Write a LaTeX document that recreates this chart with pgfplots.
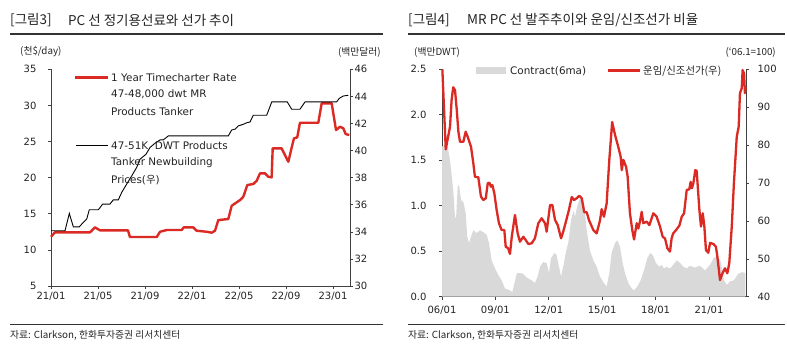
\documentclass[border=0pt]{standalone}
\usepackage{pgfplots}
\pgfplotsset{compat=1.18}
\usepackage{fontspec}
\setmainfont{DejaVu Sans}
\newfontfamily\kr{Noto Sans CJK KR}
\definecolor{myred}{RGB}{218,42,35}
\definecolor{mygrey}{RGB}{217,217,217}
\definecolor{txt}{RGB}{35,35,35}
\pgfplotsset{
  base/.style={scale only axis, tick align=outside, major tick length=3pt,
    axis line style={black!75, line width=0.8pt},
    tick style={black!75, line width=0.6pt},
    tick label style={font=\fontsize{10}{12}\selectfont, text=txt},
    /pgf/number format/assume math mode=true, clip=false},
  leftc/.style={base, at={(51pt,71pt)}, anchor=south west, width=299pt, height=216.7pt, xmin=0, xmax=25.45},
  rightc/.style={base, at={(442pt,60.3pt)}, anchor=south west, width=304pt, height=227.4pt, xmin=2006, xmax=2023.08},
}
\begin{document}
\begin{tikzpicture}
\path[use as bounding box] (0,0) rectangle (787pt,357pt);
% ---------- left chart ----------
\begin{axis}[leftc, ymin=5, ymax=35, ytick={5,10,15,20,25,30,35},
  axis y line*=left, axis x line*=bottom,
  xtick={0,4,8,12,16,20,24}, xticklabels={21/01,21/05,21/09,22/01,22/05,22/09,23/01},
  yticklabel style={xshift=-8pt}]
\addplot[myred, line width=2.4pt, line join=round] coordinates {
(0.0,11.82) (0.34,12.43) (3.32,12.43) (3.74,13.12) (4.17,12.71) (6.55,12.71) (6.72,11.78)
(9.0,11.78) (9.28,12.51) (9.85,12.75) (11.12,12.75) (11.3,13.12) (12.1,13.12) (12.4,12.65)
(13.25,12.51) (13.68,12.38) (13.96,12.65) (14.24,14.13) (15.09,14.27) (15.38,16.11)
(16.09,16.90) (16.37,17.36) (16.71,18.98) (17.22,19.12) (17.51,19.57) (17.79,20.60)
(18.21,20.60) (18.49,20.13) (18.78,20.04) (18.87,24.06) (19.63,24.06) (20.2,22.20)
(20.49,24.20) (20.68,25.44) (20.96,25.58) (21.19,27.60) (22.75,27.60) (23.04,30.29)
(23.89,30.29) (24.26,26.59) (24.6,27.05) (24.88,26.83) (25.08,26.04) (25.39,25.9)
};
\end{axis}
\begin{axis}[leftc, ymin=30, ymax=46, ytick={30,32,34,36,38,40,42,44,46},
  axis y line*=right, axis x line=none, yticklabel style={xshift=-2pt}]
\addplot[black, line width=0.9pt] coordinates {
(0.0,34.08) (1.19,34.08) (1.56,35.36) (1.90,34.37) (2.41,34.37) (2.75,34.70) (3.04,34.94)
(3.26,35.63) (4.03,35.63) (4.40,36.05) (5.02,36.05) (5.30,36.36) (5.73,36.36) (6.02,36.91)
(6.44,37.52) (6.87,38.13) (7.29,38.75) (7.57,39.36) (8.09,39.73) (8.43,40.23) (8.85,40.54)
(9.28,40.79) (9.56,40.79) (9.98,41.08) (15.09,41.08) (15.38,41.52) (15.66,41.58) (15.94,41.82)
(16.37,41.94) (16.71,42.07) (16.94,42.11) (17.22,42.61) (18.36,42.61) (18.79,43.59)
(20.11,43.59) (20.49,43.05) (21.19,43.05) (21.62,43.59) (24.31,43.59) (24.54,43.86)
(24.88,44.03) (25.30,44.08)
};
\end{axis}
% ---------- right chart ----------
\begin{axis}[rightc, ymin=0, ymax=2.5, ytick={0,0.5,1,1.5,2,2.5},
  axis y line*=left, axis x line*=bottom,
  xtick={2006,2009,2012,2015,2018,2021}, xticklabels={06/01,09/01,12/01,15/01,18/01,21/01},
  xticklabel style={yshift=-3pt},
  yticklabel style={xshift=-9pt, /pgf/number format/.cd, fixed, fixed zerofill, precision=1}]
\addplot[fill=mygrey, draw=none] coordinates {
(2006.0,1.65) (2006.17,1.67) (2006.32,1.65) (2006.45,1.50) (2006.54,1.34) (2006.63,1.17)
(2006.73,0.88) (2006.79,0.86) (2006.88,1.21) (2006.96,1.23) (2007.07,1.06) (2007.20,1.04)
(2007.33,0.92) (2007.42,0.66) (2007.52,0.59) (2007.63,0.66) (2007.76,0.73) (2007.95,0.70)
(2008.13,0.73) (2008.32,0.71) (2008.51,0.68) (2008.64,0.59) (2008.79,0.40) (2008.98,0.31)
(2009.16,0.24) (2009.35,0.18) (2009.54,0.09) (2009.82,0.07) (2009.95,0.05) (2010.07,0.15)
(2010.21,0.26) (2010.38,0.26) (2010.57,0.25) (2010.70,0.22) (2010.85,0.20) (2011.04,0.18)
(2011.22,0.15) (2011.37,0.22) (2011.51,0.33) (2011.69,0.38) (2011.88,0.37) (2012.01,0.26)
(2012.12,0.42) (2012.31,0.48) (2012.44,0.46) (2012.53,0.37) (2012.69,0.22) (2012.81,0.33)
(2012.95,0.48) (2013.10,0.60) (2013.25,0.84) (2013.38,0.95) (2013.47,0.88) (2013.62,1.01)
(2013.75,1.08) (2013.88,1.08) (2013.99,1.01) (2014.13,0.73) (2014.31,0.51) (2014.50,0.40)
(2014.69,0.33) (2014.88,0.22) (2015.06,0.16) (2015.25,0.11) (2015.40,0.26) (2015.53,0.48)
(2015.72,0.59) (2015.85,0.62) (2016.00,0.55) (2016.15,0.37) (2016.28,0.26) (2016.47,0.15)
(2016.66,0.09) (2016.79,0.07) (2016.97,0.11) (2017.16,0.18) (2017.35,0.29) (2017.53,0.42)
(2017.69,0.48) (2017.84,0.46) (2018.02,0.37) (2018.21,0.33) (2018.34,0.35) (2018.47,0.31)
(2018.62,0.33) (2018.81,0.31) (2018.99,0.35) (2019.19,0.40) (2019.38,0.37) (2019.56,0.33)
(2019.75,0.31) (2019.93,0.34) (2020.21,0.32) (2020.49,0.34) (2020.78,0.29) (2021.06,0.35)
(2021.28,0.43) (2021.51,0.44) (2021.67,0.38) (2021.84,0.18) (2022.01,0.13) (2022.18,0.17)
(2022.40,0.18) (2022.63,0.25) (2022.85,0.27) (2023.05,0.26)
} \closedcycle;
\end{axis}
\begin{axis}[rightc, ymin=40, ymax=100, ytick={40,50,60,70,80,90,100},
  axis y line*=right, axis x line=none, yticklabel style={xshift=5pt}]
\addplot[myred, line width=2.3pt, line join=round] coordinates {
(2006.02,100.0) (2006.21,78.89) (2006.45,84.85) (2006.54,91.90) (2006.63,95.25) (2006.73,94.54)
(2006.83,89.26) (2006.92,83.54) (2007.01,80.90) (2007.20,80.90) (2007.33,83.54) (2007.44,82.22)
(2007.63,79.58) (2007.76,75.20) (2007.85,71.66) (2008.04,71.50) (2008.19,66.39) (2008.32,65.51)
(2008.46,65.96) (2008.57,69.92) (2008.66,70.08) (2008.75,69.02) (2008.83,69.47) (2008.94,67.28)
(2009.07,62.88) (2009.20,59.37) (2009.35,57.60) (2009.50,57.60) (2009.58,53.19) (2009.72,52.77)
(2009.82,51.27) (2009.92,55.83) (2010.10,61.56) (2010.25,56.73) (2010.38,54.51) (2010.57,55.83)
(2010.70,54.96) (2010.85,53.90) (2011.04,54.09) (2011.22,55.41) (2011.41,59.37) (2011.60,60.69)
(2011.79,59.37) (2011.88,57.15) (2012.07,64.20) (2012.20,64.20) (2012.35,60.24) (2012.50,58.92)
(2012.69,55.41) (2012.81,57.15) (2013.01,60.69) (2013.13,62.88) (2013.29,66.3) (2013.42,65.5)
(2013.57,66.0) (2013.71,66.6) (2013.85,66.0) (2013.99,62.3) (2014.13,62.3) (2014.26,60.2)
(2014.50,57.6) (2014.69,56.7) (2014.88,60.2) (2014.97,63.1) (2015.10,61.1) (2015.25,64.6)
(2015.40,76.1) (2015.56,86.1) (2015.72,82.7) (2015.90,79.6) (2016.04,76.9) (2016.10,73.4)
(2016.19,76.1) (2016.34,74.3) (2016.43,71.7) (2016.56,62.0) (2016.69,57.6) (2016.79,55.1)
(2016.94,59.4) (2017.03,58.0) (2017.12,59.8) (2017.22,62.4) (2017.31,59.4) (2017.50,59.8)
(2017.65,58.9) (2017.87,62.0) (2018.06,61.1) (2018.25,58.5) (2018.40,55.8) (2018.53,55.4)
(2018.66,52.8) (2018.81,51.9) (2018.90,55.4) (2018.99,56.7) (2019.15,57.6) (2019.33,58.7)
(2019.47,61.1) (2019.60,62.0) (2019.75,68.2) (2019.89,68.3) (2019.97,70.3) (2020.04,68.6)
(2020.12,69.9) (2020.23,73.4) (2020.31,73.2) (2020.46,62.9) (2020.55,58.5) (2020.65,62.0)
(2020.74,58.5) (2020.83,52.3) (2020.96,51.6) (2021.06,54.2) (2021.25,53.9) (2021.39,53.2)
(2021.47,50.6) (2021.62,44.4) (2021.77,46.3) (2021.90,47.5) (2022.03,46.2) (2022.14,48.8)
(2022.28,58.5) (2022.40,69.9) (2022.56,82.2) (2022.67,84.9) (2022.74,93.7) (2022.84,95.0)
(2022.89,99.8) (2022.97,98.9) (2023.02,93.7) (2023.06,95.4)
};
\end{axis}
% ---------- titles, rules, legends, notes ----------
\node[anchor=west, text=txt, inner sep=0pt] at (10pt,337pt) {\kr\fontsize{13.5}{15}\selectfont [그림3]};
\node[anchor=west, text=txt, inner sep=0pt] at (68pt,337pt) {\kr\fontsize{13.5}{15}\selectfont PC 선 정기용선료와 선가 추이};
\node[anchor=west, text=txt, inner sep=0pt] at (408pt,337pt) {\kr\fontsize{13.5}{15}\selectfont [그림4]};
\node[anchor=west, text=txt, inner sep=0pt] at (467pt,337pt) {\kr\fontsize{13.5}{15}\selectfont MR PC 선 발주추이와 운임/신조선가 비율};
\draw[black!80, line width=1.2pt] (10pt,323pt) -- (383pt,323pt);
\draw[black!80, line width=1.2pt] (408pt,323pt) -- (785pt,323pt);
\draw[black!80, line width=1pt] (10pt,33pt) -- (383pt,33pt);
\draw[black!80, line width=1pt] (408pt,33pt) -- (785pt,33pt);
\node[anchor=west, text=txt, inner sep=0pt] at (10pt,22pt) {\kr\fontsize{9.8}{11}\selectfont 자료: Clarkson, 한화투자증권 리서치센터};
\node[anchor=west, text=txt, inner sep=0pt] at (408pt,22pt) {\kr\fontsize{9.8}{11}\selectfont 자료: Clarkson, 한화투자증권 리서치센터};
\node[anchor=west, text=txt, inner sep=0pt] at (20pt,305pt) {\kr\fontsize{9.8}{11}\selectfont (천\$/day)};
\node[anchor=east, text=txt, inner sep=0pt] at (381pt,305pt) {\kr\fontsize{9.8}{11}\selectfont (백만달러)};
\node[anchor=west, text=txt, inner sep=0pt] at (414pt,305pt) {\kr\fontsize{9.8}{11}\selectfont (백만DWT)};
\node[anchor=east, text=txt, inner sep=0pt] at (776pt,305pt) {\kr\fontsize{9.8}{11}\selectfont (‘06.1=100)};
% left legend
\draw[myred, line width=2.4pt] (75pt,279.7pt) -- (108pt,279.7pt);
\draw[black, line width=0.9pt] (76pt,211.3pt) -- (108pt,211.3pt);
\begin{scope}[every node/.style={anchor=west, text=txt, inner sep=0pt, font=\fontsize{10.4}{12}\selectfont}]
\node at (111pt,279.7pt) {1 Year Timecharter Rate};
\node at (111pt,262.7pt) {47-48,000 dwt MR};
\node at (111pt,245.2pt) {Products Tanker};
\node at (111pt,211.3pt) {47-51K\ \ DWT Products};
\node at (111pt,194.3pt) {Tanker Newbuilding};
\node at (111pt,176.8pt) {Prices({\kr 우})};
\end{scope}
% right legend
\fill[mygrey] (476pt,283pt) rectangle (506pt,290.3pt);
\node[anchor=west, text=txt, inner sep=0pt, font=\fontsize{10.4}{12}\selectfont] at (510pt,285.8pt) {Contract(6ma)};
\draw[myred, line width=2.3pt] (608pt,286.5pt) -- (640pt,286.5pt);
\node[anchor=west, text=txt, inner sep=0pt] at (643pt,286pt) {\kr\fontsize{10.4}{12}\selectfont 운임/신조선가(우)};
\end{tikzpicture}
\end{document}
